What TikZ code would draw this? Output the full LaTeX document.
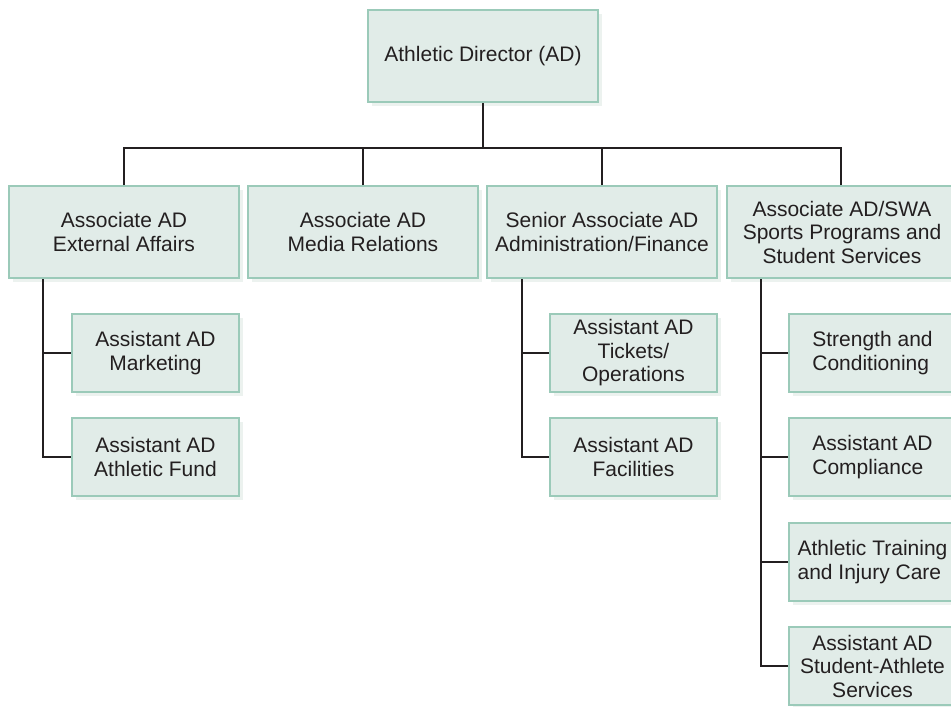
\documentclass[tikz,border=0pt]{standalone}
\usepackage{fontspec}
\setmainfont{Liberation Sans}
\usetikzlibrary{shadows}
\definecolor{boxfill}{RGB}{225,236,232}
\definecolor{boxline}{RGB}{155,202,185}
\definecolor{shade}{RGB}{236,242,239}
\definecolor{ink}{RGB}{35,31,32}
\begin{document}
\begin{tikzpicture}[x=1pt,y=-1pt,
  box/.style={draw=boxline, line width=2pt, fill=boxfill, text=ink, align=center,
    inner sep=0pt, font=\fontsize{21}{23.5}\selectfont,
    drop shadow={shadow xshift=4pt, shadow yshift=-4pt, fill=shade, opacity=1}},
  bigbox/.style={box, minimum width=230pt, minimum height=92pt},
  subbox/.style={box, minimum width=167pt, minimum height=78pt},
  conn/.style={draw=ink, line width=2.5pt}]
\useasboundingbox (0,0) rectangle (951,707);

% top
\node[bigbox] (ad) at (483,56) {Athletic Director (AD)};

% level 2
\node[bigbox] (ea)  at (124,232) {Associate AD\\External Affairs};
\node[bigbox] (mr)  at (363,232) {Associate AD\\Media Relations};
\node[bigbox] (af)  at (602,232) {Senior Associate AD\\Administration/Finance};
\node[bigbox] (swa) at (842,232) {Associate AD/SWA\\Sports Programs and\\Student Services};

% level 3
\node[subbox] (mk)   at (155.5,353) {Assistant AD\\Marketing};
\node[subbox] (fund) at (155.5,457) {Assistant AD\\Athletic Fund};
\node[subbox] (tk)   at (633.5,353) {Assistant AD\\Tickets/\\Operations};
\node[subbox] (fac)  at (633.5,457) {Assistant AD\\Facilities};
\node[subbox, align=left] (sc)   at (872.5,353) {Strength and\\Conditioning};
\node[subbox, align=left] (comp) at (872.5,457) {Assistant AD\\Compliance};
\node[subbox, align=left] (atc)  at (872.5,562) {Athletic Training\\and Injury Care};
\node[subbox] (sas)  at (872.5,666) {Assistant AD\\Student-Athlete\\Services};

% connectors
\draw[conn] (ad.south) -- ++(0,45) coordinate (bar);
\foreach \n in {ea,mr,af} \draw[conn] (\n.north) |- (bar);
\draw[conn] ([xshift=-1pt]swa.north) |- (bar);

\coordinate (v1) at ([xshift=-81pt]ea.south);
\coordinate (v2) at ([xshift=-80pt]af.south);
\coordinate (v3) at ([xshift=-81pt]swa.south);

\draw[conn] (v1) |- (fund.west);
\draw[conn] (mk.west) -- (mk.west -| v1);

\draw[conn] (v2) |- (fac.west);
\draw[conn] (tk.west) -- (tk.west -| v2);

\draw[conn] (v3) |- (sas.west);
\draw[conn] (sc.west) -- (sc.west -| v3);
\draw[conn] (comp.west) -- (comp.west -| v3);
\draw[conn] (atc.west) -- (atc.west -| v3);
\end{tikzpicture}
\end{document}
